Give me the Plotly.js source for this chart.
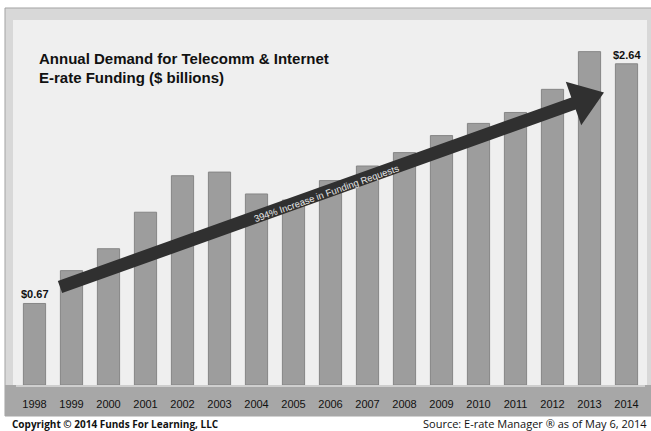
<!DOCTYPE html>
<html><head><meta charset="utf-8">
<script src="https://cdn.plot.ly/plotly-3.0.1.min.js"></script>
<style>html,body{margin:0;padding:0;background:#fff;}</style>
</head><body><div id="chart" style="width:651px;height:431px;"></div>
<script>
const years = [1998,1999,2000,2001,2002,2003,2004,2005,2006,2007,2008,2009,2010,2011,2012,2013,2014];
const yearLabels = ['1998','1999','2000','2001','2002','2003','2004','2005','2006','2007','2008','2009','2010','2011','2012','2013','2014'];
const demand = [0.67,0.94,1.12,1.42,1.72,1.75,1.57,1.52,1.68,1.80,1.91,2.05,2.15,2.24,2.43,2.74,2.64];
const labeledYears = [1998,2014];
const labelText = ['$0.67','$2.64'];
const titleLines = ['Annual Demand for Telecomm &amp; Internet','E-rate Funding ($ billions)'];
const arrowText = '394% Increase in Funding Requests';
const copyrightText = 'Copyright © 2014 Funds For Learning, LLC';
const sourceText = 'Source: E-rate Manager ® as of May 6, 2014';

const sans = '"Liberation Sans", Arial, sans-serif';

const trace = {
  type: 'bar', x: years, y: demand, width: 0.6,
  marker: {color: '#9d9d9d', line: {color: '#868686', width: 1}},
  hoverinfo: 'skip'
};

const annotations = [];
labeledYears.forEach((yr, i) => {
  annotations.push({x: yr, y: demand[years.indexOf(yr)], xref: 'x', yref: 'y', text: '<b>' + labelText[i] + '</b>',
    showarrow: false, yanchor: 'bottom', yshift: 1, font: {family: sans, size: 11, color: '#111'}});
});
annotations.push({x: 0.0334, y: 0.894, xref: 'paper', yref: 'paper', xanchor: 'left', yanchor: 'middle', showarrow: false,
  text: '<b>' + titleLines[0] + '</b>', font: {family: sans, size: 15, color: '#111'}});
annotations.push({x: 0.0334, y: 0.842, xref: 'paper', yref: 'paper', xanchor: 'left', yanchor: 'middle', showarrow: false,
  text: '<b>' + titleLines[1] + '</b>', font: {family: sans, size: 15, color: '#111'}});
annotations.push({x: 0.4929, y: 0.5233, xref: 'paper', yref: 'paper', xanchor: 'center', yanchor: 'middle', showarrow: false,
  textangle: -19.6, text: arrowText, font: {family: sans, size: 9.5, color: '#e6e6e6'}});
annotations.push({x: -0.0095, y: -0.1068, xref: 'paper', yref: 'paper', xanchor: 'left', yanchor: 'middle', showarrow: false,
  text: '<b>' + copyrightText + '</b>', font: {family: '"Open Sans", sans-serif', size: 10, color: '#111'}});
annotations.push({x: 1.0064, y: -0.1068, xref: 'paper', yref: 'paper', xanchor: 'right', yanchor: 'middle', showarrow: false,
  text: sourceText, font: {family: '"Open Sans", sans-serif', size: 11, color: '#111'}});

const shapes = [
  {type: 'rect', xref: 'paper', yref: 'paper', x0: -0.0175, x1: 1.02, y0: -0.0849, y1: 1.0329,
    fillcolor: '#d8d8d8', line: {color: '#a3a3a3', width: 1}, layer: 'below'},
  {type: 'rect', xref: 'paper', yref: 'paper', x0: -0.0175, x1: 1.02, y0: -0.0849, y1: 0,
    fillcolor: '#a7a7a7', line: {width: 0}, layer: 'below'},
  {type: 'rect', xref: 'paper', yref: 'paper', x0: -0.0048, x1: 1.0032, y0: 0, y1: 1.0,
    fillcolor: '#efefef', line: {width: 0}, layer: 'below'},
  {type: 'path', xref: 'paper', yref: 'paper',
    path: 'M0.0665,0.2852 L0.8828,0.7879 L0.8741,0.8307 L0.9348,0.8011 L0.8986,0.7118 L0.8898,0.7545 L0.0734,0.2518 Z',
    fillcolor: '#303030', line: {width: 0}, layer: 'above'}
];

const layout = {
  width: 651, height: 431,
  margin: {l: 16, r: 6, t: 20, b: 46, pad: 0},
  paper_bgcolor: '#ffffff', plot_bgcolor: 'rgba(0,0,0,0)',
  showlegend: false,
  xaxis: {type: 'linear', range: [1997.5, 2014.5], tickmode: 'array', tickvals: years, ticktext: yearLabels,
    showgrid: false, zeroline: false, showline: true, linecolor: '#cfcfcf', linewidth: 2,
    ticks: '', ticklabelstandoff: 8, tickfont: {family: sans, size: 11, color: '#111'}},
  yaxis: {range: [0, 3], showgrid: false, zeroline: false, showticklabels: false, ticks: '', showline: false},
  shapes: shapes, annotations: annotations
};

Plotly.newPlot('chart', [trace], layout, {displayModeBar: false, staticPlot: true});
</script></body></html>
